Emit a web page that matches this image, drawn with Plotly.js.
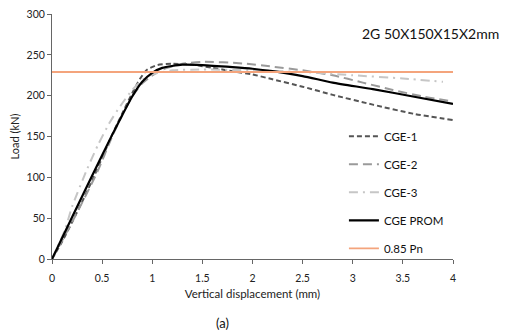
<!DOCTYPE html>
<html>
<head>
<meta charset="utf-8">
<script src="https://cdn.plot.ly/plotly-3.0.1.min.js"></script>
<style>html,body{margin:0;padding:0;background:#fff;}#chart{width:508px;height:336px;}</style>
</head>
<body>
<div id="chart"></div>
<script>
// Data
const cge1X = [0, 0.1, 0.2, 0.3, 0.4, 0.5, 0.6, 0.7, 0.8, 0.88, 0.95, 1.05, 1.2, 1.4, 1.6, 1.8, 2.0, 2.2, 2.5, 2.8, 3.2, 3.6, 4.0];
const cge1Y = [0, 21, 45, 70, 96, 124, 152, 178, 203, 221, 232, 237.5, 239, 238, 234, 230, 226, 220, 211, 201, 189, 178, 170];

const cge2X = [0, 0.2, 0.45, 0.6, 0.7, 0.8, 0.9, 0.98, 1.1, 1.3, 1.5, 1.9, 2.2, 2.5, 2.8, 3.1, 3.4, 3.7, 4.0];
const cge2Y = [0, 45, 106, 150, 176, 199, 215, 223, 232, 239, 241.5, 239.5, 235.5, 231, 225, 216, 207, 199, 193];

const cge3X = [0, 0.13, 0.2, 0.35, 0.46, 0.58, 0.68, 0.8, 0.9, 1.0, 1.2, 1.5, 2.0, 2.5, 3.0, 3.5, 3.9];
const cge3Y = [0, 36, 64, 110, 140, 168, 187, 207, 219, 226, 231, 232, 231, 229, 225, 221, 217];

const promX = [0, 0.2, 0.4, 0.6, 0.7, 0.8, 0.9, 1.0, 1.1, 1.3, 1.5, 1.8, 2.0, 2.2, 2.5, 2.8, 3.2, 3.6, 4.0];
const promY = [0, 51, 102, 152, 176, 199, 217, 228, 234, 238, 237.5, 235, 233, 230, 224, 216, 208, 199, 190];

const pnX = [0, 4];
const pnY = [229, 229];

const seriesNames = ['CGE-1', 'CGE-2', 'CGE-3', 'CGE PROM', '0.85 Pn'];
const xTickVals = [0, 0.5, 1, 1.5, 2, 2.5, 3, 3.5, 4];
const xTickText = ['0', '0.5', '1', '1.5', '2', '2.5', '3', '3.5', '4'];
const yTickVals = [0, 50, 100, 150, 200, 250, 300];

const FONT = 'Lato, "Open Sans", sans-serif';

const traces = [
  {x: cge1X, y: cge1Y, name: seriesNames[0], mode: 'lines', line: {color: '#555555', width: 2, dash: '5px,3px', shape: 'spline', smoothing: 0.6}, legendgroup: 'a'},
  {x: cge2X, y: cge2Y, name: seriesNames[1], mode: 'lines', line: {color: '#9a9a9a', width: 2, dash: '9px,5px', shape: 'spline', smoothing: 0.6}, legendgroup: 'b'},
  {x: cge3X, y: cge3Y, name: seriesNames[2], mode: 'lines', line: {color: '#c6c6c6', width: 2, dash: '9px,5px,2px,5px', shape: 'spline', smoothing: 0.6}, legendgroup: 'c'},
  {x: promX, y: promY, name: seriesNames[3], mode: 'lines', line: {color: '#000000', width: 2.2, shape: 'spline', smoothing: 0.6}, legendgroup: 'd'},
  {x: pnX, y: pnY, name: seriesNames[4], mode: 'lines', line: {color: '#f4a47c', width: 1.8}, legendgroup: 'e'}
];

const layout = {
  width: 508, height: 336,
  margin: {l: 52, r: 55, t: 14, b: 77},
  paper_bgcolor: '#ffffff', plot_bgcolor: '#ffffff',
  font: {family: FONT, size: 10, color: '#222'},
  showlegend: true,
  legend: {x: 0.728, y: 0.56, xanchor: 'left', yanchor: 'top', traceorder: 'grouped', tracegroupgap: 9,
           font: {family: FONT, size: 11.5, color: '#111'}, bgcolor: 'rgba(0,0,0,0)'},
  xaxis: {range: [0, 4], tickvals: xTickVals, ticktext: xTickText, showgrid: false, zeroline: false,
          showline: true, linecolor: '#666', linewidth: 1, ticks: 'outside', ticklen: 4, tickcolor: '#666',
          ticklabelstandoff: 5,
          tickfont: {family: FONT, size: 10.5, color: '#222'},
          title: {text: 'Vertical displacement (mm)', font: {family: FONT, size: 11.5, color: '#222'}, standoff: 7}},
  yaxis: {range: [0, 300], tickvals: yTickVals, showgrid: false, zeroline: false,
          showline: true, linecolor: '#666', linewidth: 1, ticks: 'outside', ticklen: 4, tickcolor: '#666',
          tickfont: {family: FONT, size: 10.5, color: '#222'},
          title: {text: 'Load (kN)', font: {family: FONT, size: 11, color: '#222'}, standoff: 4}},
  annotations: [
    {text: '2G 50X150X15X2mm', xref: 'paper', yref: 'paper', x: 1.12, y: 0.92, xanchor: 'right', yanchor: 'middle',
     showarrow: false, font: {family: FONT, size: 14, color: '#111'}},
    {text: '(a)', xref: 'paper', yref: 'paper', x: 0.426, y: -0.26, xanchor: 'center', yanchor: 'middle',
     showarrow: false, font: {family: FONT, size: 13, color: '#111'}}
  ]
};

Plotly.newPlot('chart', traces, layout, {displayModeBar: false, staticPlot: true});
</script>
</body>
</html>
